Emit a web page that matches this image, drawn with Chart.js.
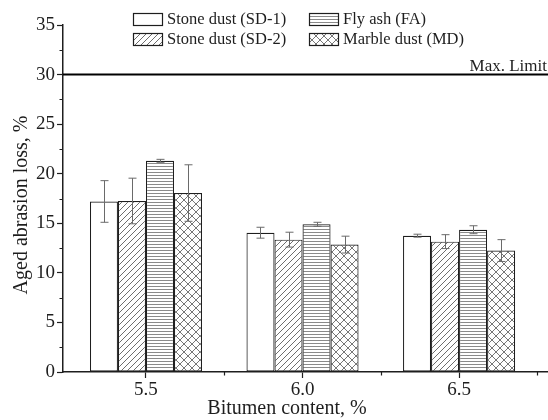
<!DOCTYPE html>
<html><head><meta charset="utf-8">
<script src="https://cdn.jsdelivr.net/npm/chart.js@4/dist/chart.umd.min.js"></script>
<style>html,body{margin:0;padding:0;background:#fff;}#wrap{width:548px;height:420px;}</style>
</head><body><div id="wrap"><canvas id="c" width="548" height="420"></canvas></div>
<script>
// ---- data ----
const bitumenContent = [5.5, 6.0, 6.5];
const xTickLabels = ['5.5', '6.0', '6.5'];
const seriesLabels = ['Stone dust (SD-1)', 'Stone dust (SD-2)', 'Fly ash (FA)', 'Marble dust (MD)'];
const sd1 = [17.2, 14.05, 13.75];
const sd1Err = [2.1, 0.55, 0.15];
const sd2 = [17.25, 13.35, 13.15];
const sd2Err = [2.3, 0.75, 0.7];
const fa = [21.3, 14.9, 14.35];
const faErr = [0.15, 0.2, 0.4];
const md = [18.05, 12.85, 12.25];
const mdErr = [2.85, 0.85, 1.1];
const yTickValues = [0, 5, 10, 15, 20, 25, 30, 35];
const yMinorTicks = [2.5, 7.5, 12.5, 17.5, 22.5, 27.5, 32.5];
const xMinorTicks = [5.75, 6.25, 6.75];
const maxLimit = 30;
const limitLabel = 'Max. Limit';
const xTitle = 'Bitumen content, %';
const yTitle = 'Aged abrasion loss, %';

const SERIF = '"Liberation Serif", "DejaVu Serif", serif';
const INK = '#1e1e1e';

function makePattern(kind) {
  const c = document.createElement('canvas');
  const g = c.getContext('2d');
  if (kind === 'none') { c.width = 4; c.height = 4; g.fillStyle = '#fff'; g.fillRect(0,0,4,4); }
  else if (kind === 'diag') {
    const s = 6; c.width = s; c.height = s;
    g.fillStyle = '#fff'; g.fillRect(0,0,s,s);
    g.strokeStyle = '#6e6e6e'; g.lineWidth = 1;
    g.beginPath();
    g.moveTo(-1, s + 1); g.lineTo(s + 1, -1);
    g.moveTo(-1, 1); g.lineTo(1, -1);
    g.moveTo(s - 1, s + 1); g.lineTo(s + 1, s - 1);
    g.stroke();
  } else if (kind === 'horiz') {
    c.width = 4; c.height = 3;
    g.fillStyle = '#fff'; g.fillRect(0,0,4,3);
    g.fillStyle = '#8a8a8a'; g.fillRect(0,1,4,1);
  } else if (kind === 'cross') {
    const s = 8; c.width = s; c.height = s;
    g.fillStyle = '#fff'; g.fillRect(0,0,s,s);
    g.strokeStyle = '#777'; g.lineWidth = 1;
    g.beginPath();
    g.moveTo(0, 0); g.lineTo(s, s);
    g.moveTo(0, s); g.lineTo(s, 0);
    g.stroke();
  }
  return document.getElementById('c').getContext('2d').createPattern(c, 'repeat');
}

const seriesValues = [sd1, sd2, fa, md];
const seriesErrors = [sd1Err, sd2Err, faErr, mdErr];
const seriesFills = [makePattern('none'), makePattern('diag'), makePattern('horiz'), makePattern('cross')];

const datasets = seriesValues.map((vals, i) => ({
  label: seriesLabels[i],
  data: bitumenContent.map((x, j) => ({ x: x, y: vals[j] })),
  backgroundColor: seriesFills[i],
  borderColor: INK,
  borderWidth: 1.2,
  borderSkipped: false,
  errors: seriesErrors[i]
}));

const extras = {
  id: 'extras',
  afterDatasetsDraw(chart) {
    const ctx = chart.ctx, ys = chart.scales.y, xs = chart.scales.x, a = chart.chartArea;
    ctx.save();
    // error bars
    ctx.strokeStyle = '#6a6a6a'; ctx.lineWidth = 1;
    chart.data.datasets.forEach((ds, i) => {
      const meta = chart.getDatasetMeta(i);
      meta.data.forEach((bar, j) => {
        const v = ds.data[j].y, e = ds.errors[j];
        const x = Math.round(bar.x) + 0.5;
        const t = ys.getPixelForValue(v + e), b = ys.getPixelForValue(v - e);
        ctx.beginPath();
        ctx.moveTo(x, t); ctx.lineTo(x, b);
        ctx.moveTo(x - 4, t); ctx.lineTo(x + 4, t);
        ctx.moveTo(x - 4, b); ctx.lineTo(x + 4, b);
        ctx.stroke();
      });
    });
    // limit line
    const ly = ys.getPixelForValue(maxLimit);
    ctx.strokeStyle = '#000'; ctx.lineWidth = 2;
    ctx.beginPath(); ctx.moveTo(a.left, ly); ctx.lineTo(a.right, ly); ctx.stroke();
    ctx.fillStyle = INK; ctx.font = '17px ' + SERIF;
    ctx.textAlign = 'right'; ctx.textBaseline = 'alphabetic';
    ctx.fillText(limitLabel, a.right - 1, ly - 4);
    ctx.restore();
  },
  afterDraw(chart) {
    const ctx = chart.ctx, ys = chart.scales.y, xs = chart.scales.x, a = chart.chartArea;
    ctx.save();
    // minor ticks
    ctx.strokeStyle = INK; ctx.lineWidth = 1.2;
    ctx.beginPath();
    yMinorTicks.forEach(v => { const y = Math.round(ys.getPixelForValue(v)) + 0.5; ctx.moveTo(a.left - 3.5, y); ctx.lineTo(a.left, y); });
    xMinorTicks.forEach(v => { const x = Math.round(xs.getPixelForValue(v)) + 0.5; ctx.moveTo(x, a.bottom); ctx.lineTo(x, a.bottom + 3.5); });
    ctx.stroke();
    // titles
    ctx.fillStyle = INK; ctx.font = '20px ' + SERIF;
    ctx.textAlign = 'center'; ctx.textBaseline = 'middle';
    ctx.fillText(xTitle, 287, 409);
    ctx.save(); ctx.translate(22, 205); ctx.rotate(-Math.PI / 2);
    ctx.fillText(yTitle, 0, 0); ctx.restore();
    // legend (2 x 2)
    const order = [[0, 133, 13], [2, 309, 13], [1, 133, 33], [3, 309, 33]];
    ctx.font = '16.5px ' + SERIF; ctx.textAlign = 'left'; ctx.textBaseline = 'middle';
    order.forEach(([i, x, y]) => {
      const ds = chart.data.datasets[i];
      ctx.fillStyle = ds.backgroundColor; ctx.fillRect(x, y, 30, 13);
      ctx.strokeStyle = INK; ctx.lineWidth = 1.2; ctx.strokeRect(x + 0.5, y + 0.5, 29, 12);
      ctx.fillStyle = INK; ctx.fillText(ds.label, x + 34, y + 7);
    });
    ctx.restore();
  }
};

new Chart(document.getElementById('c'), {
  type: 'bar',
  data: { datasets },
  options: {
    responsive: false, animation: false, devicePixelRatio: 1,
    layout: { padding: { top: 25, left: 0, right: 0, bottom: 0 } },
    plugins: { legend: { display: false }, tooltip: { enabled: false } },
    datasets: { bar: { categoryPercentage: 0.716, barPercentage: 1 } },
    scales: {
      x: {
        type: 'linear', min: 5.235, max: 6.784, offset: false,
        ticks: {
          stepSize: 0.5, includeBounds: false, autoSkip: false, maxRotation: 0, padding: 1,
          color: INK, font: { family: SERIF, size: 19 },
          callback: v => { const k = bitumenContent.findIndex(b => Math.abs(b - v) < 1e-6); return k >= 0 ? xTickLabels[k] : ''; }
        },
        grid: { offset: false, drawOnChartArea: false, drawTicks: true, tickLength: 6, tickColor: INK, tickWidth: 1.2 },
        border: { color: INK, width: 1.5 },
        afterFit: s => { s.height = 48; }
      },
      y: {
        min: 0, max: 35,
        afterBuildTicks: s => { s.ticks = yTickValues.map(v => ({ value: v })); },
        ticks: { padding: 2, color: INK, font: { family: SERIF, size: 19 } },
        grid: { drawOnChartArea: false, drawTicks: true, tickLength: 6, tickColor: INK, tickWidth: 1.2 },
        border: { color: INK, width: 1.5 },
        afterFit: s => { s.width = 63; }
      }
    }
  },
  plugins: [extras]
});
</script></body></html>
